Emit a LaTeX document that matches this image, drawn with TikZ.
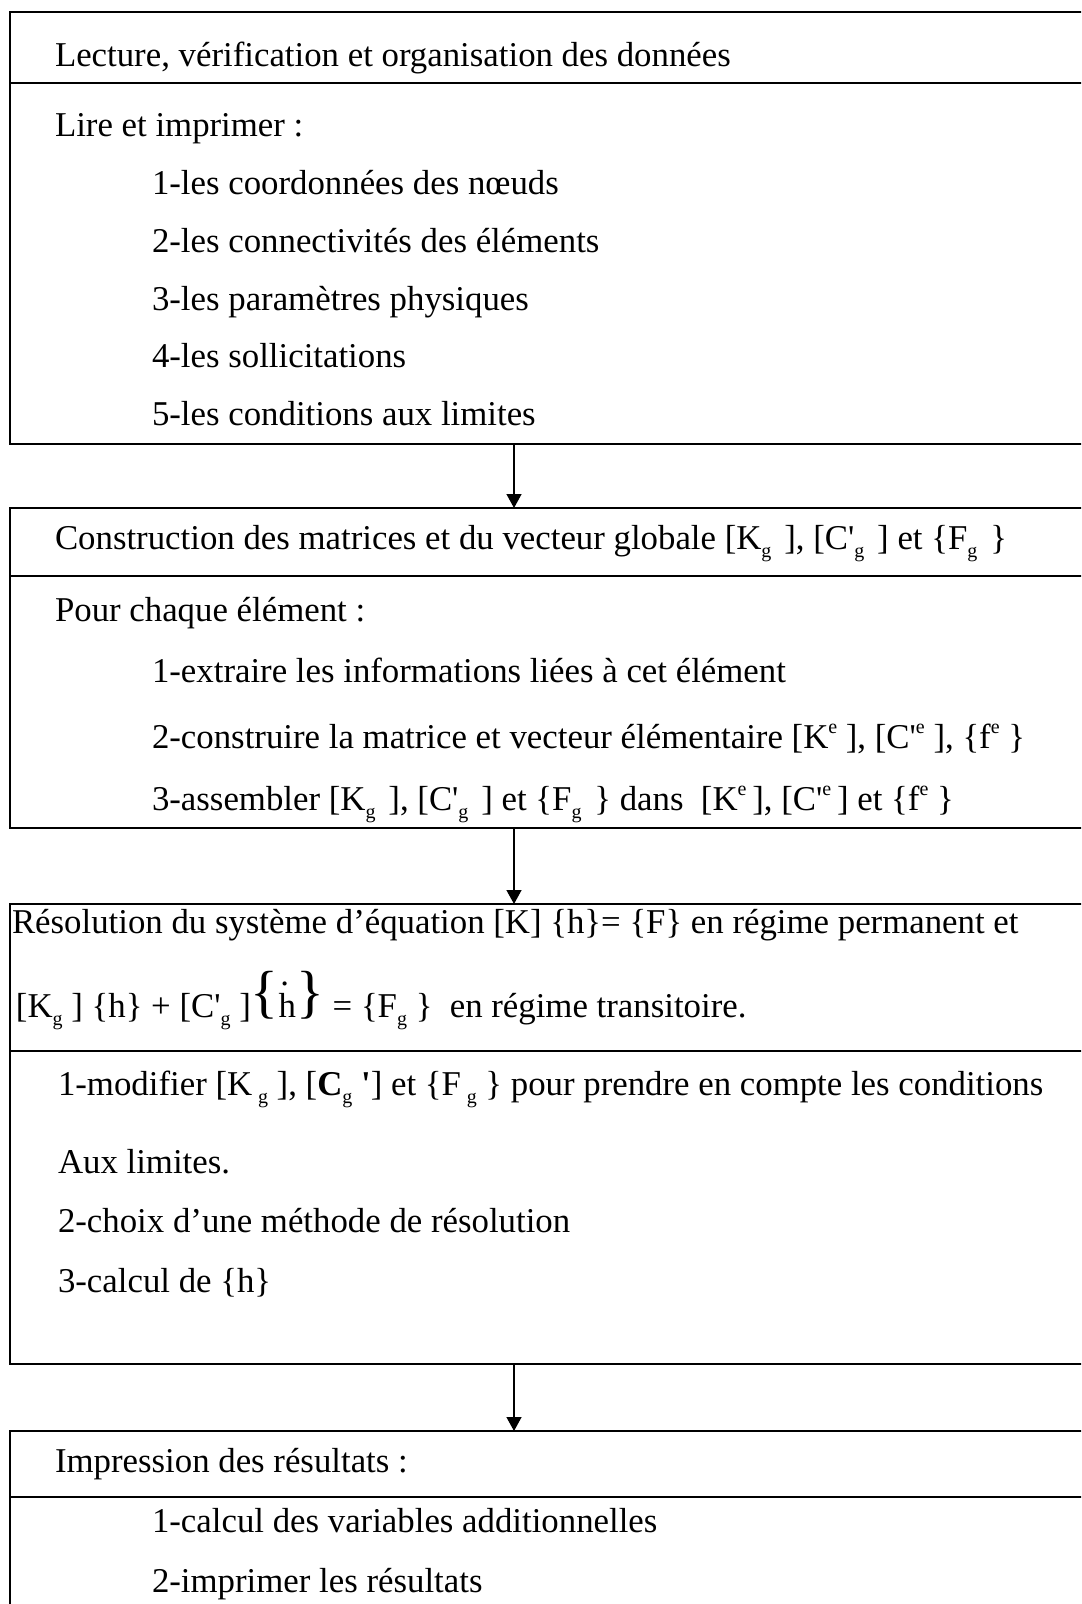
\documentclass[tikz,border=0pt]{standalone}
\usepackage{fontspec}
\setmainfont{Liberation Serif}[Ligatures=TeXOff]
\usetikzlibrary{arrows.meta}
% lowered index g (plain and with a little room after it), raised exponent e,
% tall brace, h with a dot
\newcommand{\gsub}{\raisebox{-0.25em}{\fontsize{10}{10}\selectfont g}}
\newcommand{\gsubw}{\gsub\hspace{0.12em}}
\newcommand{\esup}{\raisebox{0.42em}{\fontsize{10}{10}\selectfont e}}
\newcommand{\tallbrace}[1]{\raisebox{2.7pt}{\fontsize{29}{29}\selectfont #1}}
\newcommand{\hdot}{\ooalign{h\cr\hspace{0.05em}\raisebox{0.9em}{.}\cr}}
\begin{document}
\begin{tikzpicture}[x=0.5pt, y=-0.5pt,
  frame/.style={draw, line width=1pt, rectangle, inner sep=0pt, outer sep=0pt,
                anchor=north west, minimum width=542.5pt},
  rule/.style={line width=1pt},
  txt/.style={anchor=base west, inner sep=0pt, outer sep=0pt,
              font=\fontsize{17.4}{20}\selectfont},
  flow/.style={line width=0.7pt, -{Triangle[length=7pt, width=7.5pt]}}]
\useasboundingbox (0,0) rectangle (1081,1604);
\clip (0,0) rectangle (1081,1604);

% the four stages (they run on past the right edge)
\node[frame, minimum height=216pt] (lecture) at (10,12) {};
\node[frame, minimum height=160pt] (assemblage) at (10,508) {};
\node[frame, minimum height=230pt] (resolution) at (10,904) {};
\node[frame, minimum height=100pt] (impression) at (10,1431) {};

% title rows
\draw[rule] (10,83) -- (1095,83);
\draw[rule] (10,576) -- (1095,576);
\draw[rule] (10,1051) -- (1095,1051);
\draw[rule] (10,1497) -- (1095,1497);

% stage 1
\node[txt] (l0) at (55,67) {Lecture, vérification et organisation des données};
\node[txt] (l1) at (55,137) {Lire et imprimer :};
\node[txt] (l2) at (152,195) {1-les coordonnées des nœuds};
\node[txt] (l3) at (152,253) {2-les connectivités des éléments};
\node[txt] (l4) at (152,311) {3-les paramètres physiques};
\node[txt] (l5) at (152,368) {4-les sollicitations};
\node[txt] (l6) at (152,426) {5-les conditions aux limites};

% stage 2
\node[txt] (a0) at (55,549) {Construction des matrices et du vecteur globale [K\gsubw\ ], [C'\gsubw\ ] et \{F\gsubw\ \}};
\node[txt] (a1) at (55,621) {Pour chaque élément :};
\node[txt] (a2) at (152,682) {1-extraire les informations liées à cet élément};
\node[txt] (a3) at (152,748) {2-construire la matrice et vecteur élémentaire [K\esup\ ], [C'\esup\ ], \{f\esup\ \}};
\node[txt] (a4) at (152,810) {3-assembler [K\gsubw\ ], [C'\gsubw\ ] et \{F\gsubw\ \} dans~ [K\esup\,], [C'\esup\,] et \{f\esup\ \}};

% stage 3
\node[txt] (r0) at (12,933) {Résolution du système d’équation [K] \{h\}= \{F\} en régime permanent et};
\node[txt] (r1) at (16,1017) {[K\gsub\ ] \{h\} + [C'\gsub\ ]\tallbrace{\{}\hdot\tallbrace{\}} = \{F\gsub\ \}\ \ en régime transitoire.};
\node[txt] (r2) at (58,1095) {1-modifier [K\,\gsub\ ], [\textbf{C}\gsub\ \textbf{'}] et \{F\,\gsub\ \} pour prendre en compte les conditions};
\node[txt] (r3) at (58,1173) {Aux limites.};
\node[txt] (r4) at (58,1232) {2-choix d’une méthode de résolution};
\node[txt] (r5) at (58,1292) {3-calcul de \{h\}};

% stage 4
\node[txt] (i0) at (55,1472) {Impression des résultats :};
\node[txt] (i1) at (152,1532) {1-calcul des variables additionnelles};
\node[txt] (i2) at (152,1592) {2-imprimer les résultats};

% links between stages
\coordinate (spine) at (514,0);
\draw[flow] (lecture.south -| spine) -- (assemblage.north -| spine);
\draw[flow] (assemblage.south -| spine) -- (resolution.north -| spine);
\draw[flow] (resolution.south -| spine) -- (impression.north -| spine);
\end{tikzpicture}
\end{document}
